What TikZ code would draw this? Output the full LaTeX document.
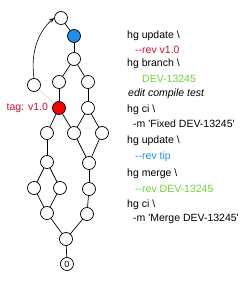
\documentclass[tikz,border=0pt]{standalone}
\usepackage{fontspec}
\setmainfont{Liberation Sans}[Ligatures=TeXOff]
\usepackage{tikz}
\usetikzlibrary{arrows.meta,positioning}
\definecolor{TagRed}{HTML}{C8102E}
\definecolor{NodeRed}{HTML}{FF0000}
\definecolor{TipBlue}{HTML}{1E8FEA}
\definecolor{BranchGreen}{HTML}{6FD03A}
\definecolor{Faint}{HTML}{CDEBC0}
\tikzset{
  commit/.style={circle,draw=black,line width=0.7pt,fill=white,minimum size=13pt,inner sep=0pt},
  commitred/.style={commit,fill=NodeRed},
  commitblue/.style={commit,fill=TipBlue},
  link/.style={line width=0.7pt,draw=black},
  cmd/.style={anchor=west,inner sep=0pt,font=\fontsize{10.5}{12}\selectfont,text=black},
  flag/.style={cmd,text=TagRed},
  arrow/.style={-{Stealth[length=5pt,width=4pt]},line width=0.6pt,draw=black}
}

\begin{document}
\begin{tikzpicture}[x=1pt,y=-1pt]
\useasboundingbox (0,0) rectangle (241,281);
% history graph
\node[commit] (top) at (61,18) {};
\node[commitblue] (tip) at (74,36) {};
\node[commit] (a) at (74,59) {};
\node[commit] (bl) at (59,82) {};
\node[commit] (br) at (88,82) {};
\node[commit] (side) at (34,85) {};
\node[commitred] (v10) at (59,108) {};
\node[commit] (c) at (88,108) {};
\node[commit] (d1) at (47,133) {};
\node[commit] (d2) at (74,133) {};
\node[commit] (d3) at (102,133) {};
\node[commit] (e1) at (47,162) {};
\node[commit] (e2) at (89,163) {};
\node[commit] (f1) at (34,188) {};
\node[commit] (f2) at (60,188) {};
\node[commit] (f3) at (89,189) {};
\node[commit] (g1) at (47,213) {};
\node[commit] (g2) at (87,214) {};
\node[commit] (h) at (66,239) {};
\node[commit,font=\fontsize{9}{9}\selectfont] (root) at (67,264) {0};
\node[flag,anchor=east,left=4pt of v10] (tag) {tag: v1.0};
\draw[link] (top)--(tip);\draw[link] (tip)--(a);
\draw[link] (a)--(bl);\draw[link] (a)--(br);
\draw[link] (bl)--(v10);\draw[link] (br)--(c);
\draw[link] (v10)--(d1);\draw[link] (v10)--(d2);
\draw[link] (c)--(d2);\draw[link] (c)--(d3);
\draw[link] (d1)--(e1);\draw[link] (d2)--(e2);\draw[link] (d3)--(e2);
\draw[link] (e1)--(f1);\draw[link] (e1)--(f2);\draw[link] (e2)--(f3);
\draw[link] (f1)--(g1);\draw[link] (f2)--(g1);\draw[link] (f3)--(g2);
\draw[link] (g1)--(h);\draw[link] (g2)--(h);\draw[link] (h)--(root);
\draw[line width=0.7pt,Faint] (side)--(v10);
\draw[arrow] (side.north) .. controls (30,50) and (40,30) .. (top.west);
% commands
\node[cmd] (l1) at (127,36) {hg update \textbackslash};
\node[flag] (l2) at (135,50) {--rev v1.0};
\node[cmd] (l3) at (127,64) {hg branch \textbackslash};
\node[cmd,text=BranchGreen] (l4) at (142,79) {DEV-13245};
\node[cmd,font=\fontsize{10.5}{12}\selectfont\itshape] (l5) at (128,94) {edit compile test};
\node[cmd] (l6) at (127,110) {hg ci \textbackslash};
\node[cmd] (l7) at (133,124) {-m 'Fixed DEV-13245'};
\node[cmd] (l8) at (127,141) {hg update \textbackslash};
\node[cmd,text=TipBlue] (l9) at (135,157) {--rev tip};
\node[cmd] (l10) at (127,174) {hg merge \textbackslash};
\node[cmd,text=BranchGreen] (l11) at (135,189) {--rev DEV-13245};
\node[cmd] (l12) at (127,205) {hg ci \textbackslash};
\node[cmd] (l13) at (133,219) {-m 'Merge DEV-13245'};
\end{tikzpicture}
\end{document}
